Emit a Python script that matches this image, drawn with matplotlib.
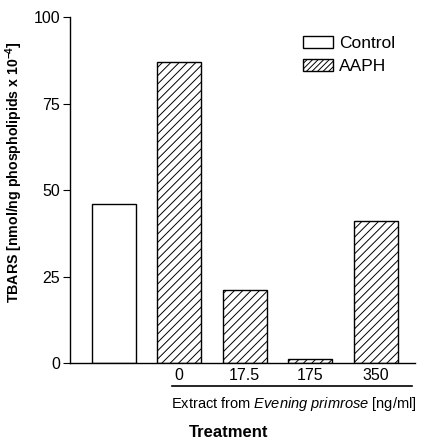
import numpy as np
import matplotlib.pyplot as plt
from matplotlib.patches import Patch

plt.rcParams['font.family'] = ['Liberation Sans', 'DejaVu Sans']
plt.rcParams['mathtext.fontset'] = 'custom'
plt.rcParams['mathtext.rm'] = 'Liberation Sans'
plt.rcParams['mathtext.it'] = 'Liberation Sans:italic'
plt.rcParams['mathtext.bf'] = 'Liberation Sans:bold'
plt.rcParams['hatch.linewidth'] = 0.7

# Data
groups = ['Control', 'AAPH', 'AAPH', 'AAPH', 'AAPH']
doses = ['', '0', '17.5', '175', '350']
tbars = [46, 87, 21, 1, 41]

fig = plt.figure(figsize=(4.21, 4.41), dpi=100)
ax = fig.add_axes([0.166, 0.177, 0.820, 0.784])

x = np.arange(len(tbars))
for xi, g, v in zip(x, groups, tbars):
    ax.bar(xi, v, width=0.67, facecolor='white', edgecolor='black',
           linewidth=1.0, hatch='////' if g == 'AAPH' else None)

ax.set_xlim(-0.667, 4.6)
ax.set_ylim(0, 100)
ax.set_yticks([0, 25, 50, 75, 100])
ax.tick_params(axis='y', length=5, width=0.8, labelsize=11.5, pad=2)
ax.set_xticks(x[1:])
ax.set_xticklabels(doses[1:])
ax.tick_params(axis='x', length=0, labelsize=11.5, pad=4)
for s in ['top', 'right']:
    ax.spines[s].set_visible(False)
ax.spines['left'].set_linewidth(1.0)
ax.spines['bottom'].set_linewidth(1.0)

ax.set_ylabel('TBARS [nmol/ng phospholipids x 10$^{\\mathbf{-4}}$]',
              fontsize=10.2, fontweight='bold')
ax.yaxis.set_label_coords(-0.13, 0.552)

# underline under dose labels
ax.plot([0.89, 4.55], [-6.6, -6.6], color='black', lw=1.2, clip_on=False)
ax.text(4.62, -11.8, 'Extract from $\\it{Evening\\ primrose}$ [ng/ml]',
        ha='right', va='center', fontsize=10.5)
ax.text(1.75, -20.2, 'Treatment', ha='center', va='center',
        fontsize=12, fontweight='bold')

handles = [Patch(facecolor='white', edgecolor='black', label='Control'),
           Patch(facecolor='white', edgecolor='black', hatch='//////', label='AAPH')]
ax.legend(handles=handles, loc='upper left', bbox_to_anchor=(0.675, 0.945),
          frameon=False, fontsize=12.5, handlelength=1.75, handleheight=0.7,
          handletextpad=0.35, labelspacing=0.45, borderaxespad=0, borderpad=0)

fig.savefig('out.png', dpi=100)
